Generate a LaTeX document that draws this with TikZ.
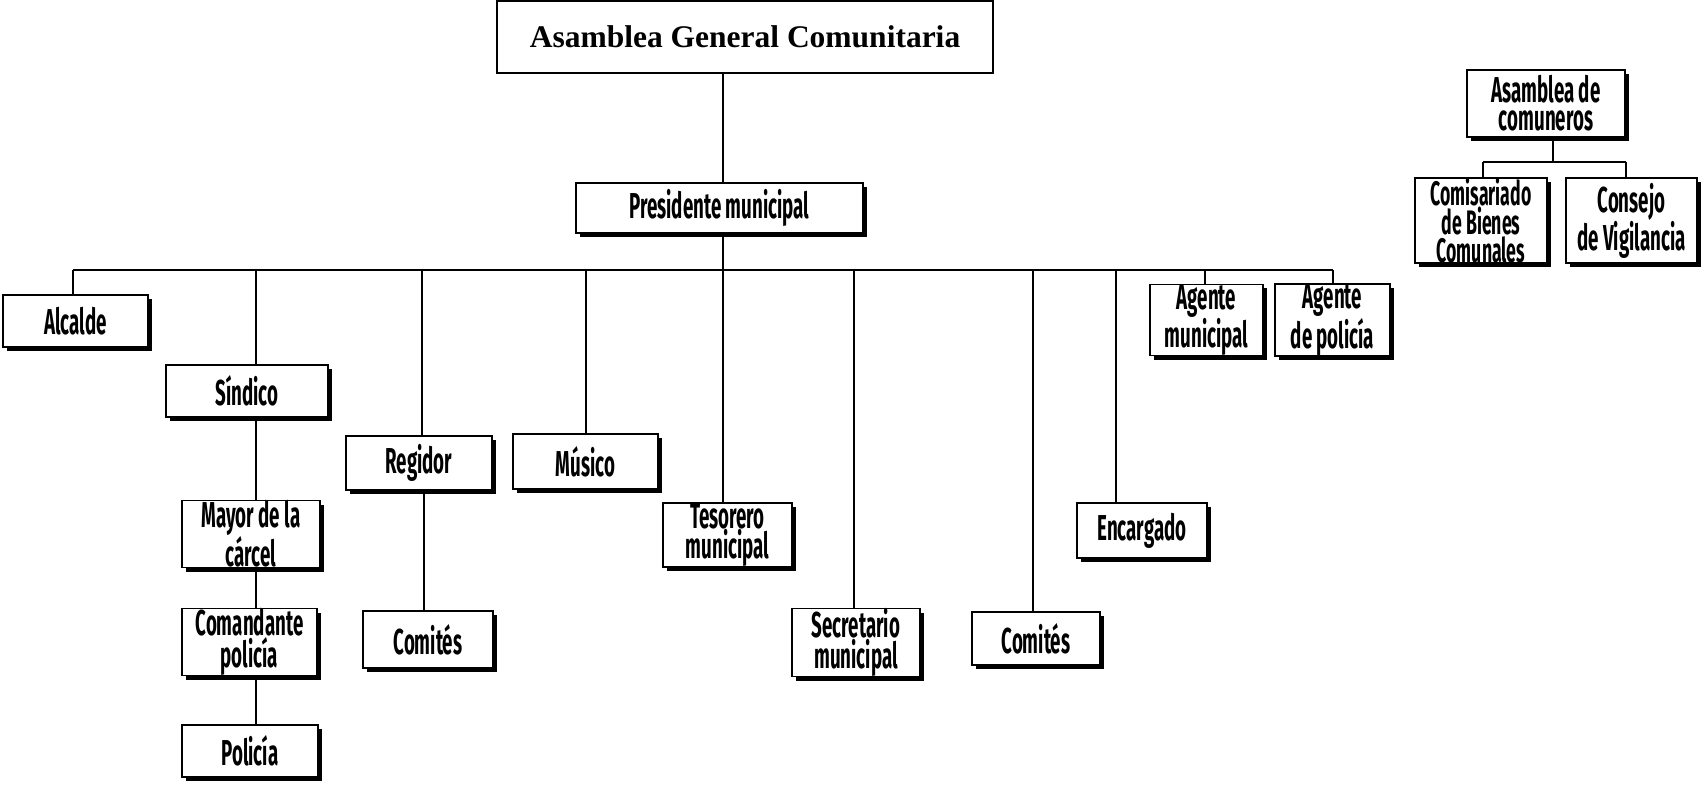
\documentclass[tikz,border=0pt]{standalone}
\usepackage{fontspec}
\setmainfont{Liberation Serif}
\newfontfamily\boxfont[FakeStretch=0.52]{Fira Sans}
\usetikzlibrary{shadows}

% box given by its corners: [extra options], name, x1, y1, x2, y2, text
\newcommand\orgbox[7][]{%
  \node[orgnode, minimum width={(#5-#3)*1pt}, minimum height={(#6-#4)*1pt}, #1]
    (#2) at ({(#3+#5)/2},{(#4+#6)/2}) {#7};}

\begin{document}
\begin{tikzpicture}[x=1pt,y=-1pt,
  orgnode/.style={draw, line width=1.8pt, fill=white, inner sep=0pt, align=center,
    font=\boxfont\bfseries\fontsize{36}{28}\selectfont,
    drop shadow={shadow xshift=4pt, shadow yshift=-4pt, fill=black, opacity=1}},
  tightlines/.style={font=\boxfont\bfseries\fontsize{34}{24.5}\selectfont},
  titlenode/.style={draw, line width=1.6pt, fill=white, inner sep=0pt,
    font=\bfseries\fontsize{31.5}{36}\selectfont},
  link/.style={line width=1.8pt}]
\useasboundingbox (0,0) rectangle (1701,785);

% top assembly
\node[titlenode, minimum width=496pt, minimum height=72pt] (title) at (745,37) {Asamblea General Comunitaria};

% municipal offices
\orgbox{pres}{576}{183}{863}{233}{Presidente municipal}
\orgbox{alcalde}{3}{295}{148}{347}{Alcalde}
\orgbox{sindico}{166}{365}{328}{417}{Síndico}
\orgbox{regidor}{346}{436}{492}{490}{Regidor}
\orgbox{musico}{513}{434}{658}{489}{Músico}
\orgbox{tesorero}{663}{503}{792}{567}{Tesorero\\municipal}
\orgbox{secretario}{792}{612}{920}{673}{Secretario\\municipal}
\orgbox{comitesB}{972}{612}{1100}{665}{Comités}
\orgbox{encargado}{1077}{503}{1207}{558}{Encargado}
\orgbox{agmun}{1150}{288}{1263}{352}{Agente\\municipal}
\orgbox{agpol}{1275}{288}{1390}{352}{Agente\\de policía}
\orgbox{mayor}{182}{504}{320}{564}{Mayor de la\\cárcel}
\orgbox{comandante}{182}{612}{317}{672}{Comandante\\policía}
\orgbox{policia}{182}{725}{318}{777}{Policía}
\orgbox{comitesA}{363}{611}{493}{668}{Comités}

% communal land authorities
\orgbox{comuneros}{1467}{70}{1625}{137}{Asamblea de\\comuneros}
\orgbox[tightlines]{comisariado}{1415}{178}{1547}{263}{Comisariado\\de Bienes\\Comunales}
\orgbox{consejo}{1566}{178}{1697}{263}{Consejo\\de Vigilancia}

% main spine and bus
\coordinate (spine) at (723,270);
\draw[link] (title.south -| spine) -- (pres.north -| spine);
\draw[link] (pres.south -| spine) -- (spine);
\coordinate (dAlc) at (73,270);
\coordinate (dSin) at (256,270);
\coordinate (dReg) at (422,270);
\coordinate (dMus) at (586,270);
\coordinate (dTes) at (723,270);
\coordinate (dSec) at (854,270);
\coordinate (dCom) at (1033,270);
\coordinate (dEnc) at (1116,270);
\coordinate (dAgm) at (1205,270);
\coordinate (dAgp) at (1333,270);
\draw[link] (dAlc) -- (dAgp);
\draw[link] (dAlc) -- (dAlc |- alcalde.north);
\draw[link] (dSin) -- (dSin |- sindico.north);
\draw[link] (dReg) -- (dReg |- regidor.north);
\draw[link] (dMus) -- (dMus |- musico.north);
\draw[link] (dTes) -- (dTes |- tesorero.north);
\draw[link] (dSec) -- (dSec |- secretario.north);
\draw[link] (dCom) -- (dCom |- comitesB.north);
\draw[link] (dEnc) -- (dEnc |- encargado.north);
\draw[link] (dAgm) -- (dAgm |- agmun.north);
\draw[link] (dAgp) -- (dAgp |- agpol.north);

% chains below Síndico and Regidor
\coordinate (sx) at (256,0);
\draw[link] (sindico.south -| sx) -- (mayor.north -| sx);
\draw[link] (mayor.south -| sx) -- (comandante.north -| sx);
\draw[link] (comandante.south -| sx) -- (policia.north -| sx);
\coordinate (rx) at (424,0);
\draw[link] (regidor.south -| rx) -- (comitesA.north -| rx);

% communal branch
\coordinate (cj) at (1553,162);
\coordinate (cl) at (1483,162);
\coordinate (cr) at (1626,162);
\draw[link] (comuneros.south -| cj) -- (cj);
\draw[link] (cl) -- (cr);
\draw[link] (cl) -- (cl |- comisariado.north);
\draw[link] (cr) -- (cr |- consejo.north);
\end{tikzpicture}
\end{document}
